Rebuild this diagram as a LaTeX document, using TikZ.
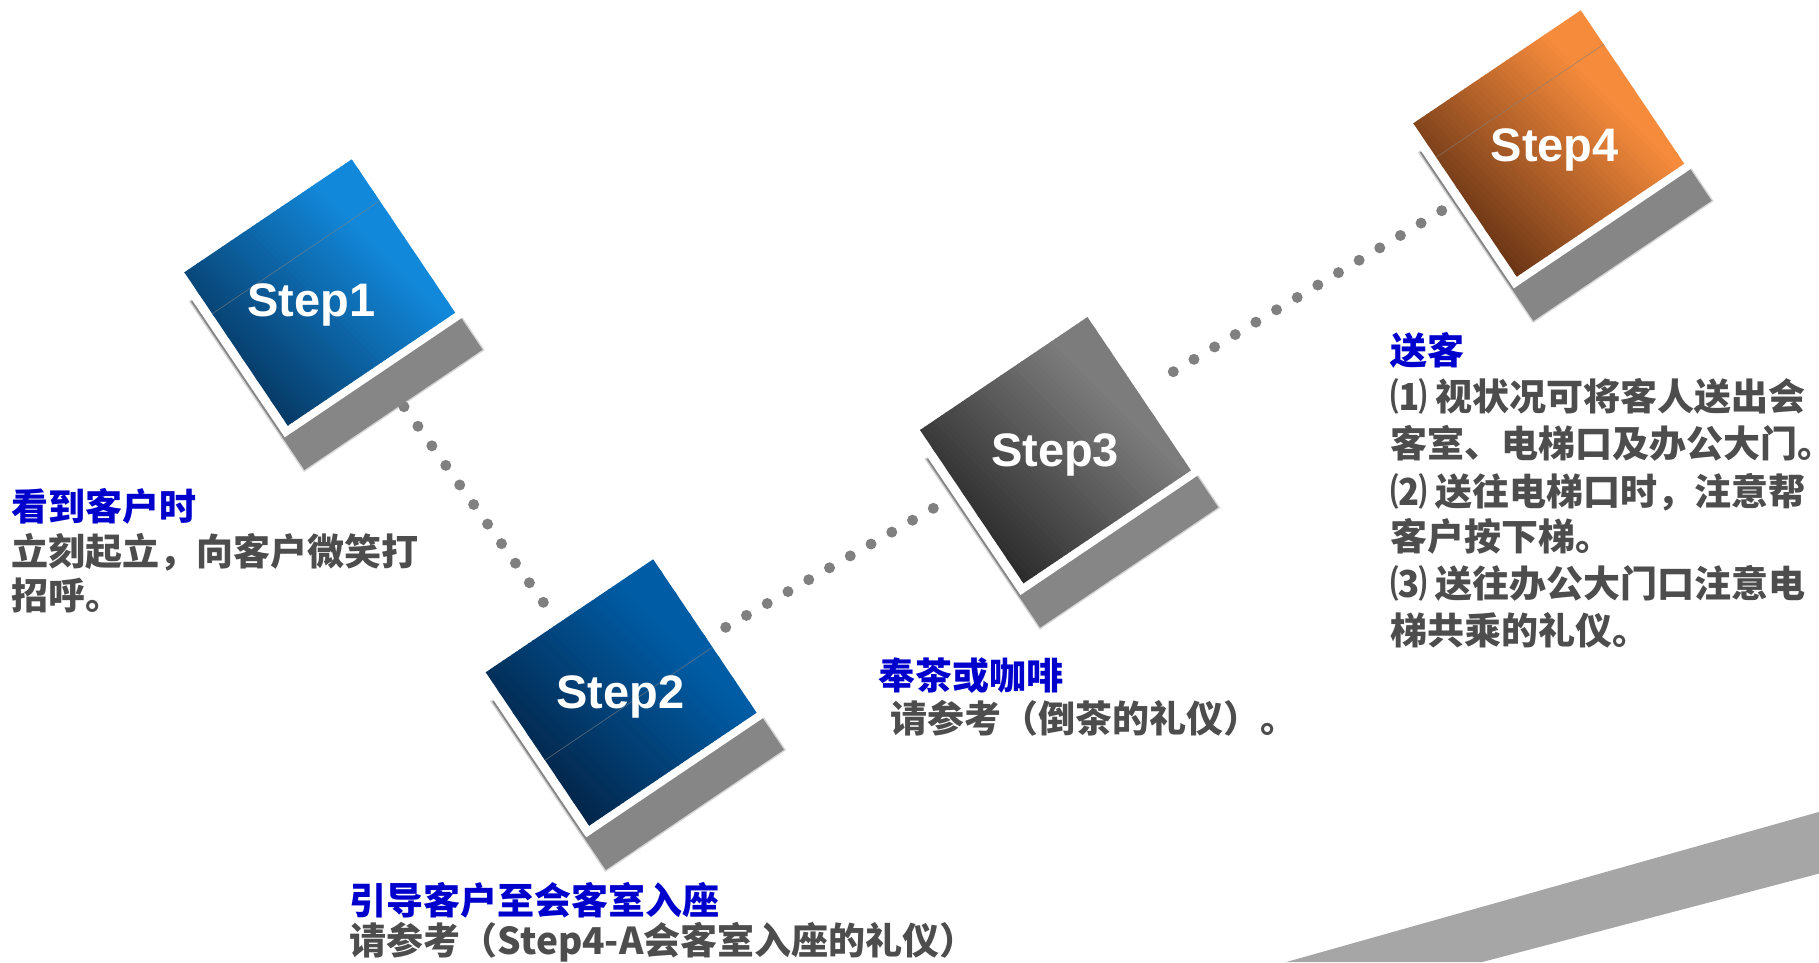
\documentclass[tikz,border=0pt]{standalone}
\usepackage{fontspec}
\setmainfont{Liberation Sans}
\newfontfamily\cjk{Noto Sans CJK SC}
\usetikzlibrary{calc}
\definecolor{tblue}{HTML}{0000CC}
\definecolor{tgray}{HTML}{4D4D4D}
\definecolor{dotgray}{HTML}{808080}
\definecolor{shadowgray}{HTML}{868686}
\definecolor{bandgray}{HTML}{A6A6A6}
\definecolor{sOnea}{HTML}{063A66}
\definecolor{sOneb}{HTML}{1288DA}
\definecolor{sTwoa}{HTML}{03264A}
\definecolor{sTwob}{HTML}{005CA5}
\definecolor{sThreea}{HTML}{2C2C2C}
\definecolor{sThreeb}{HTML}{7C7C7C}
\definecolor{sFoura}{HTML}{6B3616}
\definecolor{sFourb}{HTML}{F68B3C}
\tikzset{
  steplabel/.style={text=white, font=\fontsize{47}{56}\selectfont\bfseries, inner sep=0pt, anchor=base},
  headtext/.style={text=tblue, font=\cjk\fontsize{37}{44}\selectfont\bfseries, inner sep=1pt, anchor=base west},
  bodytext/.style={text=tgray, font=\cjk\fontsize{37}{44}\selectfont\bfseries, inner sep=1pt, anchor=base west},
  dotfill/.style={fill=dotgray},
  refl/.style={draw=gray, line width=0.6pt, opacity=0.7},
}
% #1 Lx, #2 Ly (screen px), #3 dark, #4 bright, #5 reflection v (0 = none)
\newcommand\stepgeom[5]{%
\begin{scope}[shift={(#1,-#2)}]
 \begin{scope}[x={(0.8290pt,0.5592pt)}, y={(0.5592pt,-0.8290pt)}]
  \fill[shadowgray, opacity=0.35] (-12.5,26.5) -- (205.5,26.5) -- (205.5,232.5) -- (-12.5,232.5) -- cycle;
  \fill[shadowgray] (-11,28) -- (204,28) -- (204,231) -- (-11,231) -- cycle;
  \fill[white] (-9,-1) -- (206,-1) -- (206,193) -- (-9,193) -- cycle;
  \begin{scope}
   \clip (0,0) -- (202,0) -- (202,185) -- (0,185) -- cycle;
   \begin{scope}[x={(1pt,0pt)}, y={(0pt,1pt)}, rotate=45]
     \foreach \t in {-40,-35,...,205} {
       \pgfmathsetmacro\p{max(0,min(100,(\t+36)/190*100))}
       \fill[#4!\p!#3] (\t,-300) -- (\t+5.8,-300) -- (\t+5.8,300) -- (\t,300) -- cycle;
     }
   \end{scope}
  \end{scope}
  \ifnum#5>0 \draw[refl] (0,#5) -- (202,#5);\fi
 \end{scope}
\end{scope}}
\begin{document}
\begin{tikzpicture}[x=1pt,y=1pt]
\useasboundingbox (0,0) rectangle (1819,-962);
% bottom-right band
\fill[bandgray] (1286.3,-962) -- (1819,-811.9) -- (1819,-873.6) -- (1482.2,-962) -- cycle;
% dotted connectors
\coordinate (d12a) at (404,-406.7);
\coordinate (d12b) at (543.3,-602.3);
\coordinate (d23a) at (725.7,-627.3);
\coordinate (d23b) at (933.3,-508.3);
\coordinate (d34a) at (1173.3,-371.7);
\coordinate (d34b) at (1441.7,-210.7);
\foreach \i in {0,...,10} \fill[dotfill] ($(d12a)!\i/10!(d12b)$) circle (5.5);
\foreach \i in {0,...,10} \fill[dotfill] ($(d23a)!\i/10!(d23b)$) circle (5.5);
\foreach \i in {0,...,13} \fill[dotfill] ($(d34a)!\i/13!(d34b)$) circle (5.5);
% step squares
\stepgeom{184.3}{272.3}{sOnea}{sOneb}{50}
\stepgeom{485.7}{672.3}{sTwoa}{sTwob}{106}
\stepgeom{920}{430}{sThreea}{sThreeb}{0}
\stepgeom{1413.3}{123.3}{sFoura}{sFourb}{41}
\node[steplabel] (s1) at (311.5,-316.7) {Step1};
\node[steplabel] (s2) at (620.3,-708.3) {Step2};
\node[steplabel] (s3) at (1055,-466.7) {Step3};
\node[steplabel] (s4) at (1554.7,-161.7) {Step4};
% text blocks
\node[headtext] (h1) at (10,-520.4) {看到客户时};
\node[bodytext] (b1a) at (10,-565) {立刻起立，向客户微笑打};
\node[bodytext] (b1b) at (10,-609) {招呼。};
\node[headtext] (h2) at (348.7,-914) {引导客户至会客室入座};
\node[bodytext] (b2) at (348.7,-954) {请参考（Step4-A会客室入座的礼仪）};
\node[headtext] (h3) at (877,-689) {奉茶或咖啡};
\node[bodytext] (b3) at (877,-732.4) {\hspace*{12pt}请参考（倒茶的礼仪）。};
\node[headtext] (h4) at (1389,-364) {送客};
\node[bodytext] (b4a) at (1389,-410.7) {⑴ 视状况可将客人送出会};
\node[bodytext] (b4b) at (1389,-457.4) {客室、电梯口及办公大门。};
\node[bodytext] (b4c) at (1389,-505.7) {⑵ 送往电梯口时，注意帮};
\node[bodytext] (b4d) at (1389,-550.7) {客户按下梯。};
\node[bodytext] (b4e) at (1389,-597.4) {⑶ 送往办公大门口注意电};
\node[bodytext] (b4f) at (1389,-644) {梯共乘的礼仪。};
\end{tikzpicture}
\end{document}
